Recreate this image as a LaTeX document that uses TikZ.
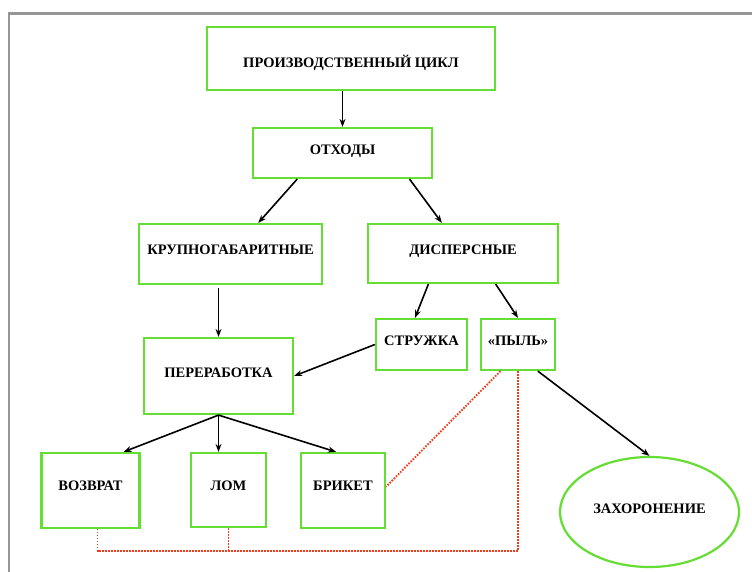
\documentclass[tikz,border=0pt]{standalone}
\usepackage{fontspec}
\setmainfont{Liberation Serif}
\usepackage{tikz}
\usetikzlibrary{calc,arrows.meta,shapes.geometric}

\definecolor{boxgreen}{RGB}{100,222,50}
\definecolor{linkred}{RGB}{238,60,30}
\definecolor{framegray}{RGB}{150,150,150}

\tikzset{
  box/.style={draw=boxgreen, line width=2.2pt, inner sep=0pt,
    font=\bfseries\fontsize{14.5}{16}\selectfont, text depth=8pt},
  oval/.style={box, ellipse},
  flow/.style={-{Stealth[length=8pt,width=6pt]}, line width=1.6pt},
  link/.style={linkred, line width=1.9pt, dash pattern=on 1.6pt off 1.4pt}
}

\begin{document}
\begin{tikzpicture}[x=1pt, y=-1pt]
  \useasboundingbox(0,0) rectangle (752,572);
  \fill[white](0,0) rectangle (752,572);
  \draw[framegray, line width=2.2pt](9,572)--(9,13.5)--(752,13.5);
  % boxes
  \node[box, minimum width=288, minimum height=63, text depth=0pt, text height=18pt]
    (cycle) at (351,58.5) {ПРОИЗВОДСТВЕННЫЙ ЦИКЛ};
  \node[box, minimum width=179, minimum height=50, text depth=6pt] (waste) at (342.5,153) {ОТХОДЫ};
  \node[box, minimum width=183, minimum height=60] (bulky) at (230.5,254) {КРУПНОГАБАРИТНЫЕ};
  \node[box, minimum width=190, minimum height=59] (disp) at (463,253.5) {ДИСПЕРСНЫЕ};
  \node[box, minimum width=91, minimum height=51, text depth=7pt] (chips) at (421.5,344.5) {СТРУЖКА};
  \node[box, minimum width=74, minimum height=51, text depth=7pt] (dust) at (518,344.5) {«ПЫЛЬ»};
  \node[box, minimum width=149, minimum height=76, text depth=7pt] (proc) at (218.5,376) {ПЕРЕРАБОТКА};
  \node[box, minimum width=98, minimum height=75, text depth=9pt] (ret) at (90.5,490.5) {ВОЗВРАТ};
  \node[box, minimum width=75, minimum height=74, text depth=9pt] (scrap) at (228.5,490) {ЛОМ};
  \node[box, minimum width=84, minimum height=75, text depth=9pt] (brik) at (343,490.5) {БРИКЕТ};
  \node[oval, minimum width=179, minimum height=110, text depth=6pt] (burial) at (649.5,512) {ЗАХОРОНЕНИЕ};
  % arrows
  \draw[flow](cycle.south -| waste)--(waste.north);
  \draw[flow]($(waste.south west)!0.25!(waste.south east)$)
    --($(bulky.north west)!0.65!(bulky.north east)$);
  \draw[flow]($(waste.south west)!0.87!(waste.south east)$)
    --($(disp.north west)!0.39!(disp.north east)$);
  \draw[flow, shorten <=3pt](proc.north |- bulky.south)--(proc.north);
  \draw[flow]($(disp.south west)!0.32!(disp.south east)$)
    --($(chips.north west)!0.43!(chips.north east)$);
  \draw[flow]($(disp.south west)!0.67!(disp.south east)$)--(dust.north);
  \draw[flow](chips.west)--(proc.east);
  \draw[flow]($(dust.south west)!0.76!(dust.south east)$)--(burial.north);
  \draw[flow](proc.south)--($(ret.north west)!0.83!(ret.north east)$);
  \draw[flow](proc.south)--(proc.south |- scrap.north);
  \draw[flow](proc.south)--($(brik.north west)!0.42!(brik.north east)$);
  % dotted links
  \coordinate(low) at (0,551);
  \coordinate(retfoot) at ($(ret.south west)!0.57!(ret.south east)$);
  \draw[link]($(dust.south west)!0.27!(dust.south east)$)
    --($(brik.north east)!0.45!(brik.south east)$);
  \draw[link](dust.south)--(dust.south |- low)--(retfoot |- low)--(retfoot);
  \draw[link](scrap.south)--(scrap.south |- low);
\end{tikzpicture}
\end{document}
